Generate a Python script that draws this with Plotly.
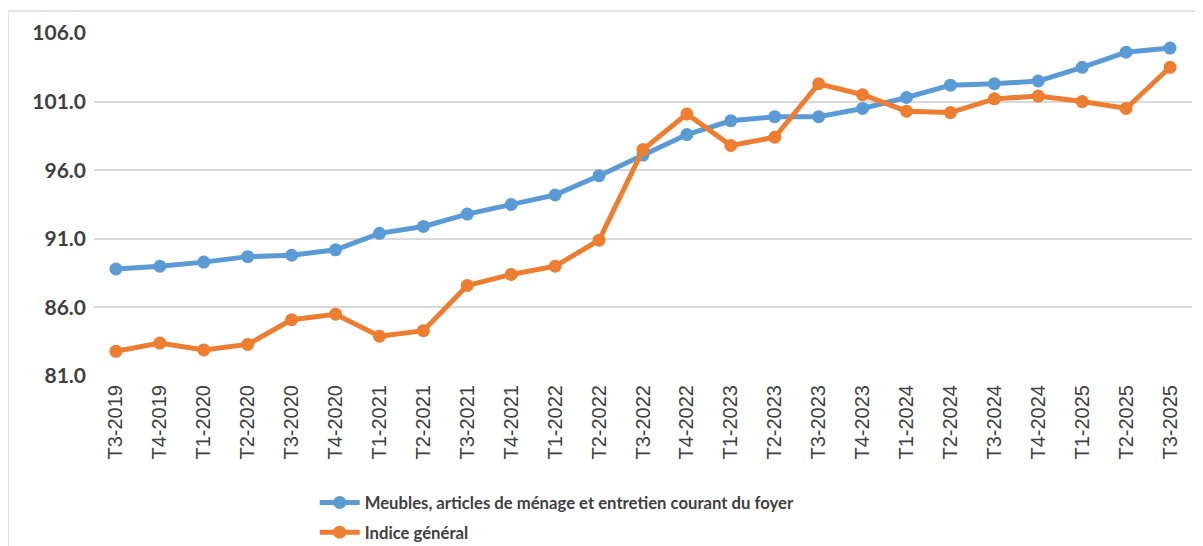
import plotly.graph_objects as go

categories = ["T3-2019", "T4-2019", "T1-2020", "T2-2020", "T3-2020", "T4-2020",
              "T1-2021", "T2-2021", "T3-2021", "T4-2021", "T1-2022", "T2-2022",
              "T3-2022", "T4-2022", "T1-2023", "T2-2023", "T3-2023", "T4-2023",
              "T1-2024", "T2-2024", "T3-2024", "T4-2024", "T1-2025", "T2-2025",
              "T3-2025"]

meubles = [88.8, 89.0, 89.3, 89.7, 89.8, 90.2, 91.4, 91.9, 92.8, 93.5, 94.2,
           95.6, 97.1, 98.6, 99.6, 99.9, 99.9, 100.5, 101.3, 102.2, 102.3,
           102.5, 103.5, 104.6, 104.9]

general = [82.8, 83.4, 82.9, 83.3, 85.1, 85.5, 83.9, 84.3, 87.6, 88.4, 89.0,
           90.9, 97.5, 100.1, 97.8, 98.4, 102.3, 101.5, 100.3, 100.2, 101.2,
           101.4, 101.0, 100.5, 103.5]

series_names = ["Meubles, articles de ménage et entretien courant du foyer",
                "Indice général"]
y_ticks = [81.0, 86.0, 91.0, 96.0, 101.0, 106.0]

BLUE = "#5B9BD5"
ORANGE = "#ED7D31"

fig = go.Figure()
fig.add_trace(go.Scatter(x=categories, y=meubles, name=series_names[0],
                         mode="lines+markers", legendgroup="a",
                         line=dict(color=BLUE, width=5),
                         marker=dict(color=BLUE, size=13)))
fig.add_trace(go.Scatter(x=categories, y=general, name=series_names[1],
                         mode="lines+markers", legendgroup="b",
                         line=dict(color=ORANGE, width=5),
                         marker=dict(color=ORANGE, size=13)))

fig.update_layout(
    width=1195, height=538,
    margin=dict(l=86, r=11, t=25, b=170, autoexpand=False),
    paper_bgcolor="white", plot_bgcolor="white",
    showlegend=True,
    legend=dict(x=0.201, y=-0.318, xanchor="left", yanchor="top",
                font=dict(family="Lato", size=16.7, color="#404040", weight="bold"),
                bgcolor="rgba(0,0,0,0)", traceorder="grouped", tracegroupgap=5,
                itemwidth=40),
    shapes=[dict(type="rect", xref="paper", yref="paper",
                 x0=-0.0783, x1=1.02, y0=-0.55, y1=1.064,
                 line=dict(color="#D9D9D9", width=1.5), layer="below")],
)
fig.update_xaxes(type="category", range=[-0.5, len(categories) - 0.5],
                 tickangle=-90, showgrid=False, showline=False, ticks="",
                 automargin=False, ticklabelstandoff=4,
                 tickfont=dict(family="Liberation Sans", size=20, color="#404040"))
fig.update_yaxes(range=[81, 106], tickvals=y_ticks, tickformat=".1f",
                 showgrid=True, gridcolor="#D9D9D9", gridwidth=2,
                 zeroline=False, showline=False, ticks="", automargin=False,
                 ticklabelstandoff=7,
                 tickfont=dict(family="Lato", size=21, color="#404040", weight="bold"))

fig.write_html("out.html")
